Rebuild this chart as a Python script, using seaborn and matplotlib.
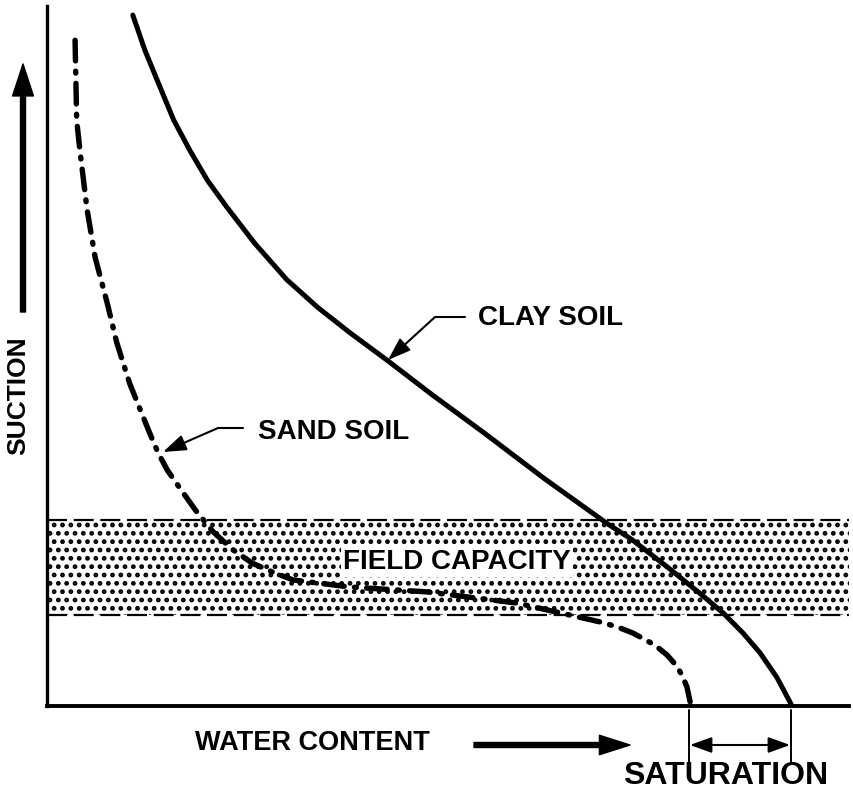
import numpy as np
import pandas as pd
import matplotlib.pyplot as plt
from matplotlib.lines import Line2D
import seaborn as sns

# water content (0-100, left to right) vs suction (0-100, bottom to top)
clay_water = [10.7, 12.2, 14.1, 15.8, 17.8, 20.0, 22.4, 25.9, 29.9, 33.8, 37.8, 42.4, 48.1,
              54.4, 62.0, 69.8, 72.9, 77.3, 81.4, 84.3, 86.8, 88.9, 91.0, 92.9]
clay_suction = [98.7, 93.7, 88.4, 83.7, 79.4, 75.1, 71.3, 66.1, 60.9, 56.9, 53.3, 49.4, 44.4,
                39.1, 32.5, 26.1, 23.8, 19.9, 16.1, 13.3, 10.4, 7.6, 4.1, 0.0]

sand_water = [3.5, 3.6, 3.7, 4.1, 5.0, 6.0, 7.5, 8.7, 10.3, 12.8, 13.8, 15.0, 16.7, 18.5, 20.7,
              23.2, 25.6, 28.2, 30.7, 37.8, 47.4, 58.6, 69.0, 71.1, 73.1, 75.8, 77.3, 78.6,
              79.3, 79.8, 80.3]
sand_suction = [95.1, 89.4, 83.7, 79.4, 70.9, 64.1, 57.6, 51.9, 46.1, 39.0, 36.3, 33.7, 30.9,
                28.0, 24.9, 22.3, 20.4, 19.1, 18.0, 17.0, 16.3, 14.7, 12.0, 11.3, 10.4, 8.7,
                7.3, 5.6, 4.1, 2.7, 0.0]

band_water = [0, 100]
band_low = 13.0
band_high = 26.6

labels = {'clay': 'CLAY SOIL', 'sand': 'SAND SOIL', 'field': 'FIELD CAPACITY',
          'y': 'SUCTION', 'x': 'WATER CONTENT', 'sat': 'SATURATION'}

W, H = 854, 791


def fp(x, y):
    # pixel position (from top-left) -> figure fraction, used for the annotation layout only
    return (x / W, 1 - y / H)


sns.set_style('white')
plt.rcParams['font.family'] = ['Liberation Sans', 'DejaVu Sans']
plt.rcParams['hatch.linewidth'] = 2.2

fig = plt.figure(figsize=(W / 100, H / 100), dpi=100)
ax = fig.add_axes([47 / W, 1 - 706 / H, (849 - 47) / W, 700 / H])

# field capacity band
ax.fill_between(band_water, band_low, band_high, facecolor='white', edgecolor='black',
                hatch='..', linewidth=0, zorder=1)
for yv in (band_low, band_high):
    ax.plot(band_water, [yv, yv], color='black', lw=1.6, dashes=(9, 3), zorder=2)

clay = pd.DataFrame({'water': clay_water, 'suction': clay_suction})
sand = pd.DataFrame({'water': sand_water, 'suction': sand_suction})

sns.lineplot(data=clay, x='water', y='suction', sort=False, estimator=None, ax=ax,
             color='black', lw=3.6, solid_capstyle='round', solid_joinstyle='round', zorder=3)
sns.lineplot(data=sand, x='water', y='suction', sort=False, estimator=None, ax=ax,
             color='black', lw=3.9, dash_capstyle='round', dash_joinstyle='round', zorder=3,
             linestyle=(0, (3.8, 1.9, 0.35, 1.9)))

ax.set_xlim(0, 100)
ax.set_ylim(0, 100)
ax.set_xticks([])
ax.set_yticks([])
ax.set_xlabel('')
ax.set_ylabel('')
sns.despine(ax=ax)
ax.spines['left'].set_linewidth(2.4)
ax.spines['bottom'].set_linewidth(2.8)
ax.spines['left'].set_color('black')
ax.spines['bottom'].set_color('black')

font = dict(fontweight='bold', color='black')

# curve labels with leader arrows
fig.text(*fp(478, 318), labels['clay'], fontsize=20, va='center', ha='left', **font)
fig.add_artist(Line2D([465 / W, 435 / W], [1 - 317 / H, 1 - 317 / H], color='black', lw=1.5))
ax.annotate('', xy=fp(388, 360), xytext=fp(435, 317), xycoords='figure fraction',
            textcoords='figure fraction',
            arrowprops=dict(arrowstyle='-|>,head_length=1.0,head_width=0.35', color='black',
                            lw=1.5, shrinkA=0, shrinkB=0, mutation_scale=14))

fig.text(*fp(258, 432), labels['sand'], fontsize=20, va='center', ha='left', **font)
fig.add_artist(Line2D([243 / W, 218 / W], [1 - 428 / H, 1 - 428 / H], color='black', lw=1.5))
ax.annotate('', xy=fp(163, 452), xytext=fp(218, 428), xycoords='figure fraction',
            textcoords='figure fraction',
            arrowprops=dict(arrowstyle='-|>,head_length=1.0,head_width=0.35', color='black',
                            lw=1.5, shrinkA=0, shrinkB=0, mutation_scale=14))

fig.text(*fp(343, 562), labels['field'], fontsize=20, va='center', ha='left', zorder=5,
         bbox=dict(facecolor='white', edgecolor='none', pad=1.5), **font)

# axis labels and direction arrows
fig.text(*fp(18, 396), labels['y'], fontsize=19, rotation=90, va='center', ha='center', **font)
ax.annotate('', xy=fp(23, 64), xytext=fp(23, 312), xycoords='figure fraction',
            textcoords='figure fraction',
            arrowprops=dict(width=3.6, headwidth=15, headlength=23, facecolor='black',
                            edgecolor='black', shrink=0))

fig.text(*fp(195, 743), labels['x'], fontsize=19.5, va='center', ha='left', **font)
ax.annotate('', xy=fp(630, 745), xytext=fp(474, 745), xycoords='figure fraction',
            textcoords='figure fraction',
            arrowprops=dict(width=3.6, headwidth=14, headlength=22, facecolor='black',
                            edgecolor='black', shrink=0))

# saturation bracket
for xp in (689, 791):
    fig.add_artist(Line2D([xp / W, xp / W], [1 - 710 / H, 1 - 764 / H], color='black', lw=1.4))
ax.annotate('', xy=fp(690, 745), xytext=fp(790, 745), xycoords='figure fraction',
            textcoords='figure fraction',
            arrowprops=dict(arrowstyle='<|-|>,head_length=1.1,head_width=0.4', color='black',
                            lw=1.5, shrinkA=0, shrinkB=0, mutation_scale=12))
fig.text(*fp(726, 776), labels['sat'], fontsize=23, va='center', ha='center', **font)

fig.savefig('out.png', dpi=100)
